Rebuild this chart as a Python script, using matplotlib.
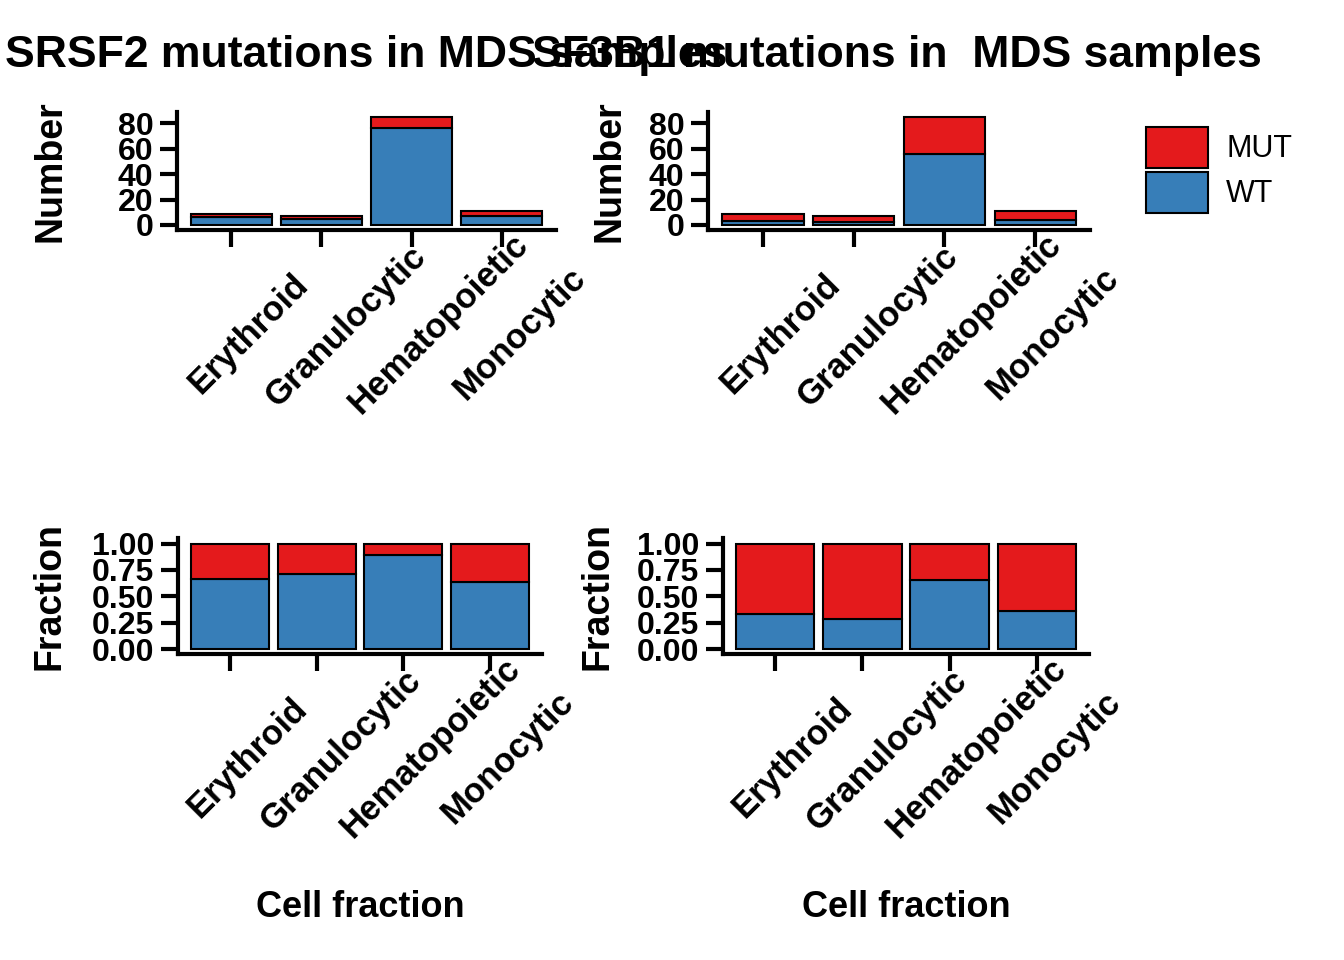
# plot.py
# Stacked bar charts of SRSF2 / SF3B1 mutation status across MDS cell fractions.
# Top row: counts, bottom row: fractions (WT at the bottom, MUT stacked on top).

import numpy as np
import matplotlib
matplotlib.use('Agg')
import matplotlib.pyplot as plt
import matplotlib.transforms as mtransforms
from matplotlib.patches import Patch

plt.rcParams['font.family'] = ['Liberation Sans', 'DejaVu Sans']

# data
cell_types = ['Erythroid', 'Granulocytic', 'Hematopoietic', 'Monocytic']
srsf2_wt = [6, 5, 76, 7]
srsf2_mut = [3, 2, 9, 4]
sf3b1_wt = [3, 2, 56, 4]
sf3b1_mut = [6, 5, 29, 7]

titles = ['SRSF2 mutations in MDS samples', 'SF3B1 mutations in  MDS samples']
count_ticks = [0, 20, 40, 60, 80]
frac_ticks = [0.0, 0.25, 0.5, 0.75, 1.0]

WT_COL = '#377EB8'
MUT_COL = '#E41A1C'

W, H = 1344, 960
fig = plt.figure(figsize=(W / 100, H / 100), dpi=100)


def px_axes(x0, x1, ytop, ybot):
    # place an axes from pixel coordinates (origin top-left)
    return fig.add_axes([x0 / W, 1 - ybot / H, (x1 - x0) / W, (ybot - ytop) / H])


def style_axes(ax):
    for side in ['top', 'right']:
        ax.spines[side].set_visible(False)
    for side in ['left', 'bottom']:
        ax.spines[side].set_linewidth(3)
    ax.tick_params(axis='both', length=12, width=3, color='black')
    ax.tick_params(axis='y', pad=5, labelsize=23)
    ax.tick_params(axis='x', labelbottom=False)
    for lab in ax.get_yticklabels():
        lab.set_fontweight('bold')


def rotated_labels(ax, labels):
    # 45 degree category labels, shifted along the text direction by length
    for i, lab in enumerate(labels):
        n = len(lab)
        trans = mtransforms.offset_copy(ax.get_xaxis_transform(), fig=fig,
                                        x=-4 + 2.4 * n, y=-(125 - 2.4 * n), units='dots')
        ax.text(i, 0, lab, transform=trans, rotation=45, rotation_mode='anchor',
                ha='center', va='center', fontsize=25, fontweight='bold')


def draw_panel(ax, wt, mut, fill=False):
    wt = np.array(wt, dtype=float)
    mut = np.array(mut, dtype=float)
    if fill:
        tot = wt + mut
        wt, mut = wt / tot, mut / tot
    x = np.arange(len(cell_types))
    ax.bar(x, wt, width=0.9, color=WT_COL, edgecolor='black', linewidth=1.5)
    ax.bar(x, mut, width=0.9, bottom=wt, color=MUT_COL, edgecolor='black', linewidth=1.5)
    ax.set_xlim(-0.6, len(cell_types) - 0.4)
    ax.set_xticks(x)
    if fill:
        ax.set_ylim(-0.05, 1.05)
        ax.set_yticks(frac_ticks)
        ax.set_yticklabels([f'{t:.2f}' for t in frac_ticks])
    else:
        top = (wt + mut).max()
        ax.set_ylim(-0.05 * top, 1.05 * top)
        ax.set_yticks(count_ticks)
    style_axes(ax)
    rotated_labels(ax, cell_types)


ax_tl = px_axes(177, 556, 111.6, 230.4)
ax_tr = px_axes(708, 1090, 111.6, 230.4)
ax_bl = px_axes(178, 542, 538.3, 654.3)
ax_br = px_axes(722.6, 1089.4, 538.3, 654.3)

draw_panel(ax_tl, srsf2_wt, srsf2_mut)
draw_panel(ax_tr, sf3b1_wt, sf3b1_mut)
draw_panel(ax_bl, srsf2_wt, srsf2_mut, fill=True)
draw_panel(ax_br, sf3b1_wt, sf3b1_mut, fill=True)

# axis titles
for ax, xc in [(ax_tl, -0.335), (ax_tr, -0.257)]:
    ax.set_ylabel('Number', fontsize=27, fontweight='bold', va='center')
    ax.yaxis.set_label_coords(xc, 0.5)
for ax, xc in [(ax_bl, -0.352), (ax_br, -0.342)]:
    ax.set_ylabel('Fraction', fontsize=27, fontweight='bold', va='center')
    ax.yaxis.set_label_coords(xc, 0.5)
    ax.set_xlabel('Cell fraction', fontsize=26, fontweight='bold', va='center')
    ax.xaxis.set_label_coords(0.5, -2.18)

# panel titles (they overlap in the original too)
fig.text(5 / W, 1 - 67 / H, titles[0], fontsize=32, fontweight='bold', va='baseline', ha='left')
fig.text(532 / W, 1 - 67 / H, titles[1], fontsize=32, fontweight='bold', va='baseline', ha='left')

# legend
handles = [Patch(facecolor=MUT_COL, edgecolor='black', linewidth=1.5, label='MUT'),
           Patch(facecolor=WT_COL, edgecolor='black', linewidth=1.5, label='WT')]
fig.legend(handles=handles, loc='upper left', bbox_to_anchor=(1146 / W, 1 - 127 / H),
           frameon=False, fontsize=22, handlelength=2.03, handleheight=1.69,
           handletextpad=0.59, labelspacing=0.12, borderpad=0, borderaxespad=0)

fig.savefig('out.png', dpi=100)
